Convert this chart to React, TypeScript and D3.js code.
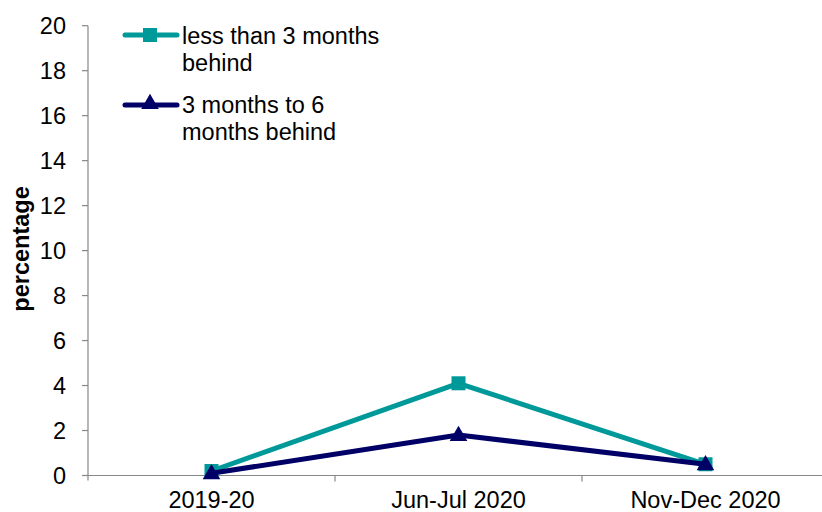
import React from "react";
import * as d3 from "d3";

const categories = ["2019-20", "Jun-Jul 2020", "Nov-Dec 2020"];
const lessThan3 = [0.2, 4.1, 0.5];
const threeTo6 = [0.1, 1.8, 0.5];
const yTicks = [0, 2, 4, 6, 8, 10, 12, 14, 16, 18, 20];

const TEAL = "#009999";
const NAVY = "#000066";
const FONT = "Liberation Sans, Arial, sans-serif";
const FS = 23.5;

export default function App() {
  const W = 822, H = 512;
  const x0 = 88, x1 = 829;
  const x = d3.scaleBand<string>().domain(categories).range([x0, x1]);
  const y = d3.scaleLinear().domain([0, 20]).range([475.5, 25.7]);
  const cx = (c: string) => (x(c) as number) + x.bandwidth() / 2;
  const line = d3.line<number>().x((_, i) => cx(categories[i])).y((d) => y(d));
  const tri = d3.symbol().type(d3.symbolTriangle).size(135);

  return (
    <svg width={W} height={H} style={{ position: "absolute", left: 0, top: 0 }}>
      <rect width={W} height={H} fill="#fff" />
      {/* y axis */}
      <line x1={x0} x2={x0} y1={y(20)} y2={y(0) + 5} stroke="#888" strokeWidth={1.2} />
      {yTicks.map((t) => (
        <g key={t}>
          <line x1={x0 - 6} x2={x0} y1={y(t)} y2={y(t)} stroke="#888" strokeWidth={1.2} />
          <text x={66} y={y(t)} dy="0.35em" textAnchor="end" fontFamily={FONT} fontSize={FS} fill="#000">
            {t}
          </text>
        </g>
      ))}
      {/* x axis */}
      <line x1={x0} x2={x1} y1={y(0)} y2={y(0)} stroke="#888" strokeWidth={1.2} />
      {categories.map((c) => (
        <g key={c}>
          <line x1={(x(c) as number) + x.bandwidth()} x2={(x(c) as number) + x.bandwidth()} y1={y(0)} y2={y(0) + 6} stroke="#888" strokeWidth={1.2} />
          <text x={cx(c)} y={508} textAnchor="middle" fontFamily={FONT} fontSize={FS} fill="#000">
            {c}
          </text>
        </g>
      ))}
      <text transform={`translate(21,249) rotate(-90)`} textAnchor="middle" fontFamily={FONT} fontSize={FS} fontWeight="bold" fill="#000" dy="0.35em">
        percentage
      </text>
      {/* series */}
      <path d={line(lessThan3) || ""} fill="none" stroke={TEAL} strokeWidth={5} strokeLinejoin="round" />
      {lessThan3.map((v, i) => (
        <rect key={i} x={cx(categories[i]) - 7} y={y(v) - 7} width={14} height={14} fill={TEAL} />
      ))}
      <path d={line(threeTo6) || ""} fill="none" stroke={NAVY} strokeWidth={5} strokeLinejoin="round" />
      {threeTo6.map((v, i) => (
        <path key={i} d={tri() || ""} transform={`translate(${cx(categories[i])},${y(v) + 1})`} fill={NAVY} />
      ))}
      {/* legend */}
      <g>
        <line x1={125} x2={177} y1={35} y2={35} stroke={TEAL} strokeWidth={5} strokeLinecap="round" />
        <rect x={143} y={28} width={14} height={14} fill={TEAL} />
        <text x={182} y={36} dy="0.35em" fontFamily={FONT} fontSize={FS} fill="#000">less than 3 months</text>
        <text x={182} y={63} dy="0.35em" fontFamily={FONT} fontSize={FS} fill="#000">behind</text>
        <line x1={125} x2={177} y1={105} y2={105} stroke={NAVY} strokeWidth={5} strokeLinecap="round" />
        <path d={tri() || ""} transform={`translate(150,104)`} fill={NAVY} />
        <text x={182} y={105} dy="0.35em" fontFamily={FONT} fontSize={FS} fill="#000">3 months to 6</text>
        <text x={182} y={132} dy="0.35em" fontFamily={FONT} fontSize={FS} fill="#000">months behind</text>
      </g>
    </svg>
  );
}
